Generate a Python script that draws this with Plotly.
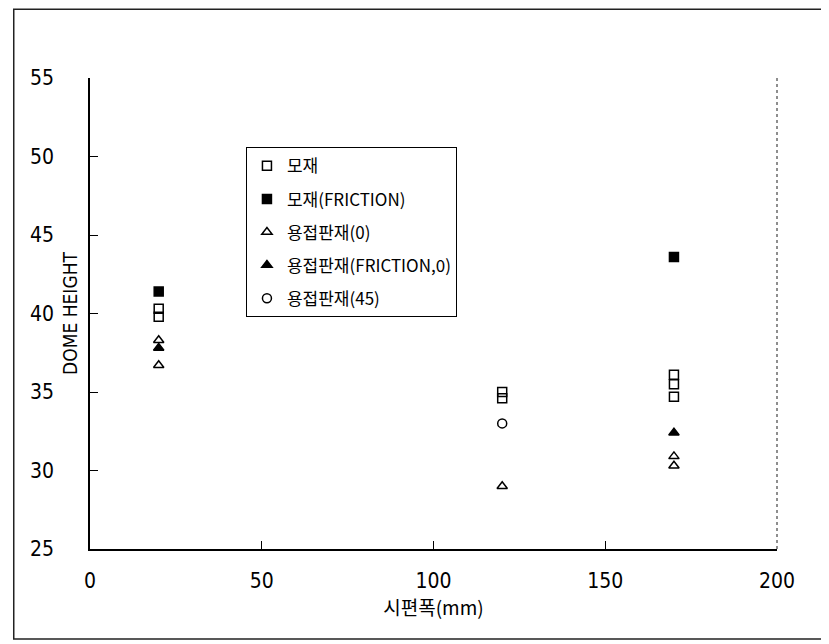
import plotly.graph_objects as go

# ---- data ----
names = ["모재", "모재(FRICTION)", "용접판재(0)", "용접판재(FRICTION,0)", "용접판재(45)"]
symbols = ["square-open", "square", "triangle-up-open", "triangle-up", "circle-open"]

x_base = [20, 20, 120, 120, 170, 170, 170]
y_base = [40.3, 39.8, 35.0, 34.6, 36.1, 35.5, 34.7]

x_base_fr = [20, 170]
y_base_fr = [41.4, 43.6]

x_weld0 = [20, 20, 120, 170, 170]
y_weld0 = [38.3, 36.7, 29.0, 30.9, 30.3]

x_weld0_fr = [20, 170]
y_weld0_fr = [37.8, 32.4]

x_weld45 = [120]
y_weld45 = [33.0]

x_ticks = [0, 50, 100, 150, 200]
y_ticks = [25, 30, 35, 40, 45, 50, 55]

x_title = "시편폭(mm)"
y_title = "DOME HEIGHT"

series = [
    (x_base, y_base),
    (x_base_fr, y_base_fr),
    (x_weld0, y_weld0),
    (x_weld0_fr, y_weld0_fr),
    (x_weld45, y_weld45),
]

NFONT = "Liberation Sans Narrow, DejaVu Sans Condensed, Noto Sans CJK KR, sans-serif"
KFONT = "Noto Sans CJK KR, Liberation Sans Narrow, sans-serif"

fig = go.Figure()
for i, ((xs, ys), nm, sym) in enumerate(zip(series, names, symbols)):
    fig.add_trace(go.Scatter(
        x=xs, y=ys, mode="markers", name=nm, legendgroup=f"g{i}",
        marker=dict(symbol=sym, size=9, color="black",
                    line=dict(color="black", width=1.5)),
    ))

fig.update_layout(
    width=829, height=644,
    margin=dict(l=82, r=60, t=70, b=103),
    paper_bgcolor="white", plot_bgcolor="white",
    font=dict(family=NFONT, size=20, color="black"),
    showlegend=True,
    legend=dict(
        x=0.227, y=0.853, xanchor="left", yanchor="top",
        bgcolor="white", bordercolor="black", borderwidth=1,
        font=dict(family=KFONT, size=17, color="black"),
        traceorder="grouped", tracegroupgap=8,
        itemwidth=30,
    ),
    xaxis=dict(
        range=[0, 200], tickvals=x_ticks, ticktext=[str(v) for v in x_ticks],
        showgrid=False, zeroline=False, showline=True, linecolor="black", linewidth=1.5,
        ticks="inside", ticklen=8, tickcolor="black",
        ticklabelstandoff=12,
        title=dict(text=x_title, font=dict(family=KFONT, size=19), standoff=4),
        tickfont=dict(family=NFONT, size=21),
    ),
    yaxis=dict(
        range=[25, 55], tickvals=y_ticks, ticktext=[str(v) for v in y_ticks],
        showgrid=False, zeroline=False, showline=True, linecolor="black", linewidth=1.5,
        ticks="inside", ticklen=8, tickcolor="black",
        ticklabelstandoff=30,
        tickfont=dict(family=NFONT, size=21),
    ),
    annotations=[
        dict(text=y_title, xref="paper", yref="paper", x=-0.03, y=0.5,
             xanchor="center", yanchor="middle", textangle=-90, showarrow=False,
             font=dict(family=NFONT, size=19, color="black")),
    ],
    shapes=[
        # right frame line of the plot area
        dict(type="line", xref="paper", yref="paper", x0=1, x1=1, y0=0, y1=1,
             line=dict(color="#444444", width=1.2, dash="dot")),
        # outer border around the whole picture
        dict(type="rect", xref="paper", yref="paper",
             x0=-0.111, x1=1.076, y0=-0.191, y1=1.146,
             line=dict(color="#222222", width=1.5)),
    ],
)

fig.write_html("out.html")
